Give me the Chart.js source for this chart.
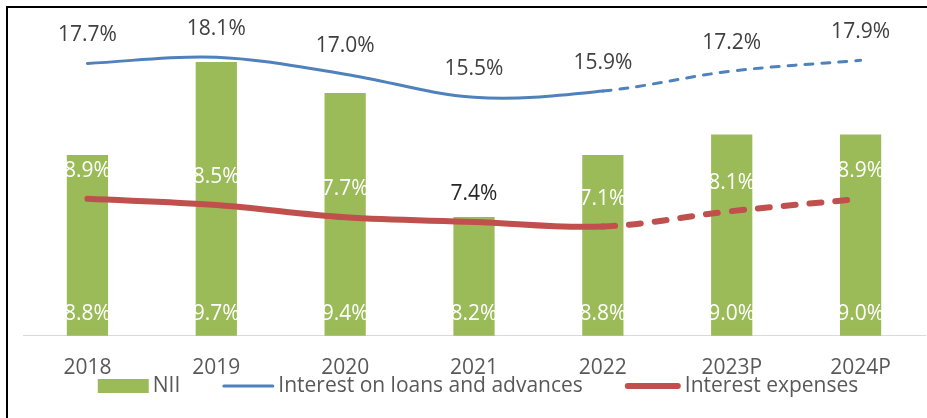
<!DOCTYPE html>
<html>
<head>
<meta charset="utf-8">
<script src="https://cdn.jsdelivr.net/npm/chart.js@4/dist/chart.umd.min.js"></script>
<style>
    body { margin: 0; background: #fff; }
    #wrap { position: relative; width: 927px; height: 418px; }
    #frame { position: absolute; left: 6px; top: 6px; right: 0; bottom: 0;
             border-top: 2px solid #000; border-left: 2px solid #000; pointer-events: none; }
</style>
</head>
<body>
<div id="wrap">
    <canvas id="chartCanvas" width="927" height="418"></canvas>
    <div id="frame"></div>
</div>
<script>
// chart data
const years = ['2018', '2019', '2020', '2021', '2022', '2023P', '2024P'];
const nii = [8.8, 9.7, 9.4, 8.2, 8.8, 9.0, 9.0];
const loanInterest = [17.7, 18.1, 17.0, 15.5, 15.9, 17.2, 17.9];
const interestExpenses = [8.9, 8.5, 7.7, 7.4, 7.1, 8.1, 8.9];

const GREEN = '#9BBB59';
const BLUE = '#4F81BD';
const RED = '#C0504D';
const FONT = '"Open Sans", "DejaVu Sans", sans-serif';

// projected years (from 2022 on) are dashed
function projDash(dash) {
    return ctx => ctx.p0DataIndex >= 4 ? dash : undefined;
}

// value labels drawn straight on the canvas
const valueLabels = {
    id: 'valueLabels',
    afterDatasetsDraw(chart) {
        const ctx = chart.ctx;
        const bottom = chart.scales.y1.getPixelForValue(chart.scales.y1.min);
        ctx.save();
        ctx.font = `21px ${FONT}`;
        ctx.textAlign = 'center';
        ctx.textBaseline = 'middle';
        chart.data.datasets.forEach((ds, i) => {
            const meta = chart.getDatasetMeta(i);
            meta.data.forEach((el, j) => {
                const txt = ds.data[j].toFixed(1) + '%';
                let y, color;
                if (meta.type === 'bar') {
                    y = bottom - 22;
                    color = '#ffffff';
                } else {
                    y = el.y - 28;
                    color = Array.isArray(ds.labelColor) ? ds.labelColor[j] : ds.labelColor;
                }
                ctx.fillStyle = color;
                ctx.fillText(txt, el.x, y);
            });
        });
        ctx.restore();
    }
};

// legend under the axis labels, like the original
const bottomLegend = {
    id: 'bottomLegend',
    afterDraw(chart) {
        const ctx = chart.ctx;
        const area = chart.chartArea;
        const y = 386;
        ctx.save();
        ctx.font = `21px ${FONT}`;
        ctx.textBaseline = 'middle';
        const items = [
            { text: 'NII', kind: 'box', color: GREEN, w: 51 },
            { text: 'Interest on loans and advances', kind: 'line', color: BLUE, w: 52, lw: 3 },
            { text: 'Interest expenses', kind: 'line', color: RED, w: 56, lw: 6 }
        ];
        const gap = 4, spacing = 42;
        let total = 0;
        items.forEach((it, k) => {
            it.tw = ctx.measureText(it.text).width;
            total += it.w + gap + it.tw + (k ? spacing : 0);
        });
        let x = (area.left + area.right) / 2 - total / 2 + 4;
        items.forEach(it => {
            if (it.kind === 'box') {
                ctx.fillStyle = it.color;
                ctx.fillRect(x, y - 7, it.w, 14);
            } else {
                ctx.strokeStyle = it.color;
                ctx.lineWidth = it.lw;
                ctx.lineCap = 'round';
                ctx.beginPath();
                ctx.moveTo(x + it.lw / 2, y);
                ctx.lineTo(x + it.w - it.lw / 2, y);
                ctx.stroke();
            }
            x += it.w + gap;
            ctx.fillStyle = '#595959';
            ctx.fillText(it.text, x, y);
            x += it.tw + spacing;
        });
        ctx.restore();
    }
};

new Chart(document.getElementById('chartCanvas'), {
    data: {
        labels: years,
        datasets: [
            {
                type: 'line',
                label: 'Interest on loans and advances',
                data: loanInterest,
                yAxisID: 'y',
                borderColor: BLUE,
                borderWidth: 3,
                borderCapStyle: 'round',
                tension: 0.35,
                pointRadius: 0,
                labelColor: '#404040',
                segment: { borderDash: projDash([8, 9]) },
                order: 1
            },
            {
                type: 'line',
                label: 'Interest expenses',
                data: interestExpenses,
                yAxisID: 'y',
                borderColor: RED,
                borderWidth: 6,
                borderCapStyle: 'round',
                tension: 0.35,
                pointRadius: 0,
                labelColor: ['#fff', '#fff', '#fff', '#262626', '#fff', '#fff', '#fff'],
                segment: { borderDash: projDash([12, 14]) },
                order: 2
            },
            {
                type: 'bar',
                label: 'NII',
                data: nii,
                yAxisID: 'y1',
                backgroundColor: GREEN,
                barPercentage: 0.32,
                categoryPercentage: 1,
                order: 3
            }
        ]
    },
    options: {
        responsive: false,
        animation: false,
        layout: { padding: { left: 23, right: 2, top: 28, bottom: 17 } },
        plugins: {
            legend: { display: false },
            tooltip: { enabled: false },
            title: { display: false }
        },
        scales: {
            x: {
                offset: true,
                grid: { display: false, drawTicks: false },
                border: { color: '#d9d9d9', width: 1 },
                ticks: { color: '#595959', font: { family: FONT, size: 21 }, padding: 20 }
            },
            y: { display: false, min: 0, max: 20 },
            y1: { display: false, min: 7.05, max: 10.03 }
        }
    },
    plugins: [valueLabels, bottomLegend]
});
</script>
</body>
</html>
